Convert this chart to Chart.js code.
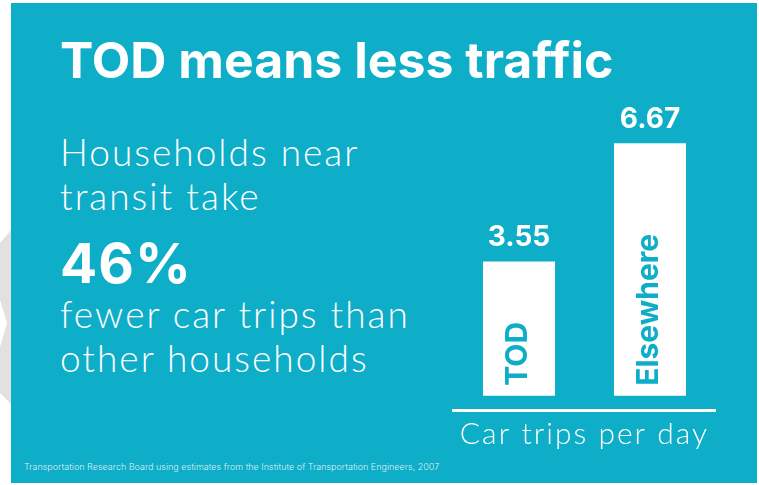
<!DOCTYPE html>
<html>
<head>
<meta charset="utf-8">
<script src="https://cdn.jsdelivr.net/npm/chart.js@4.4.1/dist/chart.umd.min.js"></script>
<style>
  html, body { margin: 0; padding: 0; background: #ffffff; }
  #stage { position: relative; width: 759px; height: 485px; overflow: hidden; }
  #chevron {
    position: absolute; left: 0; top: 225px; width: 12px; height: 185px; background: #e1e1e1;
    clip-path: polygon(0 18px, 12px 4px, 12px 180px, 0 168px, 0 122px, 7px 98px, 0 75px);
  }
  #panel { position: absolute; left: 11px; top: 3px; width: 746px; height: 480px; background: #0eadc8; }
  .txt { position: absolute; left: 60px; color: #ffffff; white-space: nowrap; line-height: 1; font-family: "Inter", sans-serif; }
  #title { font-weight: 700; font-size: 50px; top: 35px; }
  .light { font-family: "Lato", sans-serif; font-weight: 300; font-size: 37px; letter-spacing: 2px; }
  #big { font-weight: 700; font-size: 55px; letter-spacing: 1px; }
  #source { left: 24px; font-size: 9px; font-weight: 300; color: rgba(255,255,255,0.85); top: 462px; }
  #chart { position: absolute; left: 0; top: 0; }
</style>
</head>
<body>
<div id="stage">
  <div id="chevron"></div>
  <div id="panel"></div>
  <div class="txt" id="title">TOD means less traffic</div>
  <div class="txt light" style="top:133px">Households near</div>
  <div class="txt light" style="top:177px">transit take</div>
  <div class="txt" id="big" style="top:236px">46%</div>
  <div class="txt light" style="top:295px">fewer car trips than</div>
  <div class="txt light" style="top:339px">other households</div>
  <div class="txt" id="source">Transportation Research Board using estimates from the Institute of Transportation Engineers, 2007</div>
  <canvas id="chart" width="759" height="485"></canvas>
</div>
<script>
// chart values
var categories = ["TOD", "Elsewhere"];
var tripsPerDay = [3.55, 6.67];
var valueLabels = ["3.55", "6.67"];
var axisTitle = "Car trips per day";

var TEAL = "#0eadc8";

// wider spacing for the axis title, like the light font in the original
var spacing = {
    id: "spacing",
    beforeDraw: function(chart) {
        chart.ctx.letterSpacing = "2px";
    }
};

// draws the numbers above the bars and the rotated names inside them
var barLabels = {
    id: "barLabels",
    afterDatasetsDraw: function(chart) {
        var ctx = chart.ctx;
        var meta = chart.getDatasetMeta(0);
        meta.data.forEach(function(bar, i) {
            ctx.save();
            ctx.letterSpacing = "0px";
            ctx.fillStyle = "#ffffff";
            ctx.font = "700 28px Inter, sans-serif";
            ctx.textAlign = "center";
            ctx.textBaseline = "alphabetic";
            ctx.fillText(valueLabels[i], bar.x, bar.y - 15);

            ctx.translate(bar.x + 8, bar.base - 10);
            ctx.rotate(-Math.PI / 2);
            ctx.fillStyle = TEAL;
            ctx.font = "700 30px Inter, sans-serif";
            ctx.textAlign = "left";
            ctx.fillText(categories[i], 0, 0);
            ctx.restore();
        });
    }
};

var ctx = document.getElementById("chart").getContext("2d");
var chart = new Chart(ctx, {
    type: "bar",
    data: {
        labels: categories,
        datasets: [{
            label: axisTitle,
            data: tripsPerDay,
            backgroundColor: "#ffffff",
            borderWidth: 0,
            barPercentage: 0.55,
            categoryPercentage: 1
        }]
    },
    options: {
        responsive: false,
        animation: false,
        devicePixelRatio: 1,
        layout: {
            padding: { left: 453.5, right: 43.5, top: 93, bottom: 33 }
        },
        scales: {
            x: {
                grid: { display: false, drawTicks: false },
                border: { display: true, color: "#ffffff", width: 3 },
                ticks: { display: false },
                title: {
                    display: true,
                    text: axisTitle,
                    color: "#ffffff",
                    font: { family: "Lato", size: 30, weight: 300 },
                    padding: { top: 6, bottom: 0 }
                }
            },
            y: {
                display: false,
                min: -0.375,
                max: 8
            }
        },
        plugins: {
            legend: { display: false },
            tooltip: { enabled: false }
        }
    },
    plugins: [spacing, barLabels]
});
</script>
</body>
</html>
